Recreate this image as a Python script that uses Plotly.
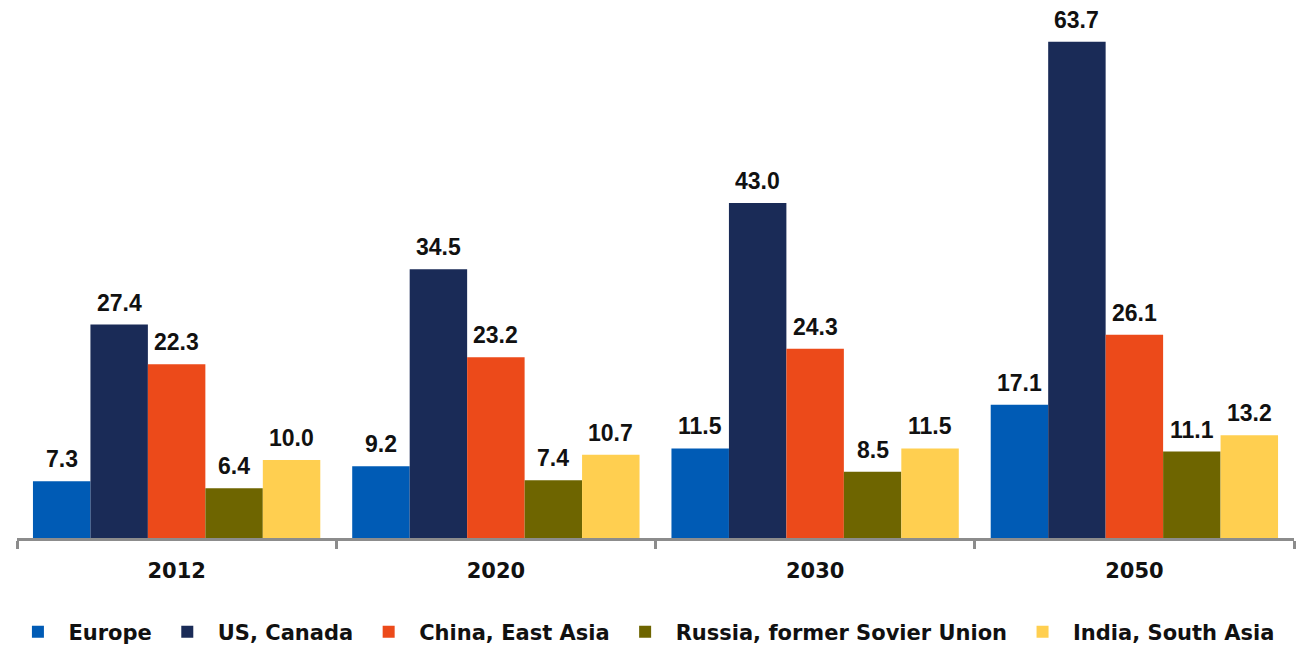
import plotly.graph_objects as go

years = ["2012", "2020", "2030", "2050"]
series_names = ["Europe", "US, Canada", "China, East Asia", "Russia, former Sovier Union", "India, South Asia"]
europe = [7.3, 9.2, 11.5, 17.1]
us_canada = [27.4, 34.5, 43.0, 63.7]
china_east_asia = [22.3, 23.2, 24.3, 26.1]
russia_fsu = [6.4, 7.4, 8.5, 11.1]
india_south_asia = [10.0, 10.7, 11.5, 13.2]
colors = ["#005BB5", "#1A2B57", "#EC4A1A", "#6E6500", "#FFCF50"]

values = [europe, us_canada, china_east_asia, russia_fsu, india_south_asia]

FONT = "DejaVu Sans, Verdana, sans-serif"
LABEL_FONT = "Liberation Sans, Arial, sans-serif"
W, H = 1301, 648
ML, MR, MT, MB = 17, 7, 0, 110
BARGAP = 0.1

fig = go.Figure()
for i, (name, vals, col) in enumerate(zip(series_names, values, colors)):
    fig.add_trace(go.Bar(
        x=years, y=vals, name=name,
        marker=dict(color=col, line=dict(width=0)),
    ))

# value labels placed above each bar (horizontal offset follows the group layout)
plot_w = W - ML - MR
bar_w = plot_w / len(years) * (1 - BARGAP) / len(series_names)
n = len(series_names)
for i, vals in enumerate(values):
    for j, v in enumerate(vals):
        fig.add_annotation(
            x=j, y=v, xref="x", yref="y", text=f"{v:.1f}", showarrow=False,
            xanchor="center", yanchor="bottom",
            xshift=(i - (n - 1) / 2) * bar_w, yshift=7,
            font=dict(family=LABEL_FONT, size=23, color="#111111", weight="bold"),
        )

fig.update_layout(
    width=W, height=H,
    margin=dict(l=ML, r=MR, t=MT, b=MB, autoexpand=False),
    barmode="group",
    bargap=BARGAP,
    bargroupgap=0,
    plot_bgcolor="white",
    paper_bgcolor="white",
    font=dict(family=FONT, color="#111111"),
    showlegend=True,
    legend=dict(
        orientation="h", x=-0.0075, xanchor="left", y=-0.1747, yanchor="middle",
        font=dict(size=21, family=FONT, weight="bold", color="#111111"),
        itemwidth=51,
        traceorder="normal",
    ),
    xaxis=dict(
        type="category",
        range=[-0.5, len(years) - 0.5],
        showline=True, linecolor="#8C8C8C", linewidth=3,
        ticks="outside", tickson="boundaries", ticklen=8, tickwidth=3, tickcolor="#8C8C8C",
        tickfont=dict(size=21, family=FONT, weight="bold", color="#111111"),
        ticklabelstandoff=12,
        showgrid=False,
    ),
    yaxis=dict(
        range=[0, 69.06], visible=False, showgrid=False, zeroline=False,
    ),
)

fig.write_html("out.html")
